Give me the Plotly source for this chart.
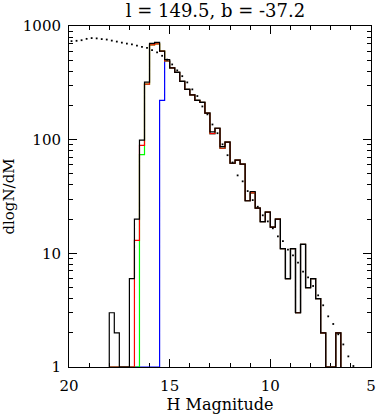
import numpy as np
import plotly.graph_objects as go

# ---- data ----
BIN_START = 18.0      # faint edge of first bin (H mag)
BIN_WIDTH = 0.25
# total counts per 0.25-mag bin, going from H=18.0 toward brighter magnitudes
total_counts = [3, 2, 0, 0, 6, 20, 99, 321, 703, 718,
                601, 507, 429, 391, 326, 277, 248, 222, 213, 171,
                117, 126, 87, 95, 62, 66, 61, 29, 35, 25,
                19, 23, 17, 20, 11, 6, 11, 3, 12, 5,
                6, 4, 2, 0, 0, 2]
red_counts = [0, 0, 0, 0, 0, 13, 89, 308, 682, 695,
              601, 492, 429, 391, 326, 277, 248, 222, 213, 171,
              113, 126, 84, 95, 62, 66, 61, 29, 34, 25,
              19, 23, 17, 20, 11, 6, 11, 3, 12, 5,
              6, 4, 2, 0, 0, 2]
green_counts = [0, 0, 0, 0, 0, 0, 74, 308, 682, 695,
                601, 492, 429, 391, 326, 277, 248, 222, 213, 171,
                113, 126, 84, 95, 62, 66, 61, 29, 34, 25,
                19, 23, 17, 20, 11, 6, 11, 3, 12, 5,
                6, 4, 2, 0, 0, 2]
blue_counts = [0, 0, 0, 0, 0, 0, 0, 0, 0, 0,
               222, 492, 429, 391, 326, 277, 248, 222, 213, 171,
               113, 126, 84, 95, 62, 66, 61, 29, 34, 25,
               19, 23, 17, 20, 11, 6, 11, 3, 12, 5,
               6, 4, 2, 0, 0, 2]

# model (dotted) evaluated at bin centres
model_mag = [19.875, 19.625, 19.375, 19.125, 18.875, 18.625, 18.375, 18.125,
             17.875, 17.625, 17.375, 17.125, 16.875, 16.625, 16.375, 16.125,
             15.875, 15.625, 15.375, 15.125, 14.875, 14.625, 14.375, 14.125,
             13.875, 13.625, 13.375, 13.125, 12.875, 12.625, 12.375, 12.125,
             11.875, 11.625, 11.375, 11.125, 10.875, 10.625, 10.375, 10.125,
             9.875, 9.625, 9.375, 9.125, 8.875, 8.625, 8.375, 8.125,
             7.875, 7.625, 7.375, 7.125, 6.875, 6.625, 6.375, 6.125, 5.875]
model_val = [736, 741, 750, 771, 783, 778, 767, 760,
             744, 729, 714, 700, 689, 672, 656, 643,
             614, 586, 547, 506, 459, 407, 362, 319,
             277, 242, 196, 167, 136, 114, 91, 73,
             63, 48.5, 43, 35.3, 29.4, 25.7, 21.6, 19.1,
             16.6, 14.1, 12.8, 10.8, 9.6, 8.3, 6.9, 6.15,
             5.16, 4.27, 3.49, 2.79, 2.39, 1.94, 1.58, 1.24, 1.02]

x_ticks_major = 5
YMIN, YMAX = 1, 1000
TITLE = "l = 149.5, b = -37.2"
XTITLE = "H Magnitude"
YTITLE = "dlogN/dM"

FONT = "DejaVu Serif"
LW = 1.2


def step_path(counts):
    edges = [BIN_START - BIN_WIDTH * i for i in range(len(counts) + 1)]
    xs, ys = [edges[0]], [YMIN]
    for i, v in enumerate(counts):
        v = max(v, YMIN)
        xs += [edges[i], edges[i + 1]]
        ys += [v, v]
    xs.append(edges[-1])
    ys.append(YMIN)
    return xs, ys


fig = go.Figure()
for counts, col in [(blue_counts, "#0000ff"), (green_counts, "#00ff00"),
                    (red_counts, "#ff0000"), (total_counts, "#000000")]:
    xs, ys = step_path(counts)
    fig.add_trace(go.Scatter(x=xs, y=ys, mode="lines",
                             line=dict(color=col, width=LW),
                             hoverinfo="skip", showlegend=False))

fig.add_trace(go.Scatter(x=model_mag, y=model_val, mode="markers",
                         marker=dict(color="black", size=1.8, symbol="square",
                                     line=dict(width=0)),
                         hoverinfo="skip", showlegend=False))

minor_y = [m * 10 ** e for e in range(3) for m in range(2, 10)]

fig.update_layout(
    width=380, height=414,
    margin=dict(l=67, r=4, t=26, b=47),
    paper_bgcolor="white", plot_bgcolor="white",
    font=dict(family=FONT, color="black", size=15),
    title=dict(text=TITLE, x=0.485, xref="paper", xanchor="center",
               y=1 - 11 / 414, yref="container", yanchor="middle",
               font=dict(family=FONT, size=18, color="black")),
    xaxis=dict(range=[20, 5], tickmode="linear", tick0=5, dtick=x_ticks_major,
               ticks="inside", ticklen=8, tickwidth=1, tickcolor="black",
               minor=dict(dtick=1, tick0=5, ticks="inside", ticklen=4,
                          tickwidth=1, tickcolor="black", showgrid=False),
               showline=True, linecolor="black", linewidth=1, mirror="allticks",
               showgrid=False, zeroline=False, layer="below traces",
               tickfont=dict(family=FONT, size=15, color="black"),
               ticklabelstandoff=5, ticklabeloverflow="allow",
               title=dict(text=XTITLE, font=dict(family=FONT, size=16, color="black"),
                          standoff=2)),
    yaxis=dict(type="log", range=[np.log10(YMIN), np.log10(YMAX)],
               tickmode="array", tickvals=[1, 10, 100, 1000],
               ticktext=["1", "10", "100", "1000"],
               ticks="inside", ticklen=8, tickwidth=1, tickcolor="black",
               minor=dict(tickmode="array", tickvals=minor_y, ticks="inside",
                          ticklen=4, tickwidth=1, tickcolor="black", showgrid=False),
               showline=True, linecolor="black", linewidth=1, mirror="allticks",
               showgrid=False, zeroline=False, layer="below traces",
               tickfont=dict(family=FONT, size=15, color="black"),
               ticklabelstandoff=4, ticklabeloverflow="allow",
               title=dict(text=YTITLE, font=dict(family=FONT, size=15, color="black"),
                          standoff=8)),
)

fig.write_html("out.html",
               config={"displayModeBar": False, "staticPlot": True},
               post_script="document.body.style.margin='0';"
                           "document.body.style.overflow='hidden';")
